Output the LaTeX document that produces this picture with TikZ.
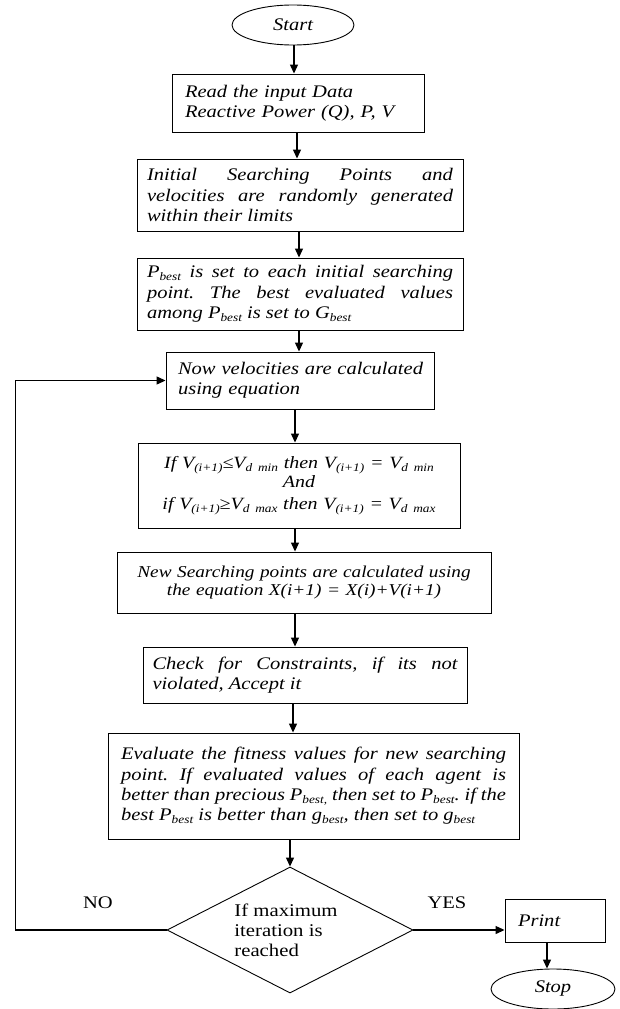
\documentclass[tikz,border=0pt]{standalone}
\usepackage{fontspec}
\setmainfont{Liberation Serif}[FakeStretch=1.16]
\usetikzlibrary{shapes.geometric,arrows.meta}
\newcommand\sbs[1]{\raisebox{-0.35ex}{\fontsize{11.5}{11.5}\selectfont #1}}
\newcommand\mainsize{\fontsize{17.7}{20.4}\selectfont}
\frenchspacing
\begin{document}
\begin{tikzpicture}[x=1pt,y=-1pt,
  box/.style={draw, rectangle, line width=0.9pt, font=\mainsize\itshape, inner ysep=0pt},
  term/.style={draw, ellipse, line width=0.9pt, inner sep=0pt, font=\mainsize\itshape},
  arr/.style={-{Triangle[length=9pt,width=8pt]}, line width=1.2pt},
  lab/.style={font=\mainsize, inner sep=0pt}]
\useasboundingbox (0,0) rectangle (619,1009);

\node[term, minimum width=122pt, minimum height=40pt] (start) at (293,25) {Start};
\node[box, minimum width=252pt, minimum height=58pt, text width=226pt, inner xsep=13pt, align=left] (b1) at (298,103)
  {Read the input Data\\Reactive Power (Q), P, V};
\node[box, minimum width=326pt, minimum height=72pt, text width=306pt, inner xsep=10pt, align=justify] (b2) at (300,195)
  {Initial Searching Points and\linebreak velocities are randomly generated\linebreak within their limits};
\node[box, minimum width=326pt, minimum height=72pt, text width=306pt, inner xsep=10pt, align=justify] (b3) at (300,294)
  {P\sbs{best} is set to each initial searching\linebreak point. The best evaluated values\linebreak among P\sbs{best} is set to G\sbs{best}};
\node[box, minimum width=268pt, minimum height=57pt, text width=256pt, inner xsep=6pt, align=left] (b4) at (300,380.5)
  {\hspace*{6pt}Now velocities are calculated\\\hspace*{6pt}using equation};
\node[box, minimum width=322pt, minimum height=85pt, text width=306pt, inner xsep=8pt, align=center,
  font=\fontsize{17.2}{20.4}\selectfont\itshape] (b5) at (299,485.5)
  {If V\sbs{(i+1)}≤V\sbs{d min} then V\sbs{(i+1)} = V\sbs{d min}\\[-1pt]And\\[1pt]if V\sbs{(i+1)}≥V\sbs{d max} then V\sbs{(i+1)} = V\sbs{d max}};
\node[box, minimum width=374pt, minimum height=61pt, text width=354pt, inner xsep=10pt, align=center,
  font=\fontsize{16.6}{18}\selectfont\itshape] (b6) at (304,582.5)
  {New Searching points are calculated using\\the equation X(i+1) = X(i)+V(i+1)};
\node[box, minimum width=324pt, minimum height=56pt, text width=305pt, inner xsep=9.5pt, align=justify] (b7) at (305,675)
  {Check for Constraints, if its not\linebreak violated, Accept it};
\node[box, minimum width=411pt, minimum height=106pt, text width=385pt, inner xsep=13pt, align=justify] (b8) at (313.5,786)
  {Evaluate the fitness values for new searching\linebreak point. If evaluated values of each agent is\linebreak better than precious P\sbs{best,} then set to P\sbs{best}. if the\linebreak best P\sbs{best} is better than g\sbs{best}, then set to g\sbs{best}};
\node[draw, diamond, aspect=2, line width=0.9pt, inner sep=0pt, minimum width=246pt, minimum height=126pt,
  font=\fontsize{17.9}{20}\selectfont, align=left] (d) at (290,930)
  {\hspace*{-8pt}If maximum\\\hspace*{-8pt}iteration is\\\hspace*{-8pt}reached};
\node[box, minimum width=100pt, minimum height=43pt, text width=74pt, inner xsep=13pt, align=left] (p) at (555,920.5) {Print};
\node[term, minimum width=124pt, minimum height=40pt] (stop) at (553,989) {Stop};

\node[lab] (no) at (98,903) {NO};
\node[lab] (yes) at (447,903) {YES};

\draw[arr] (start.south -| 294,0) -- (b1.north -| 294,0);
\draw[arr] (b1.south -| 297,0) -- (b2.north -| 297,0);
\draw[arr] (b2.south -| 299,0) -- (b3.north -| 299,0);
\draw[arr] (b3.south -| 299,0) -- (b4.north -| 299,0);
\draw[arr] (b4.south -| 295,0) -- (b5.north -| 295,0);
\draw[arr] (b5.south -| 295,0) -- (b6.north -| 295,0);
\draw[arr] (b6.south -| 295,0) -- (b7.north -| 295,0);
\draw[arr] (b7.south -| 293,0) -- (b8.north -| 293,0);
\draw[arr] (b8.south -| d.north) -- (d.north);
\draw[arr] (d.east) -- (p.west |- d.east);
\draw[arr] (p.south -| 547,0) -- (stop.north -| 547,0);
\draw[arr] (d.west) -- ++(-151,0) |- (b4.west);
\end{tikzpicture}
\end{document}
